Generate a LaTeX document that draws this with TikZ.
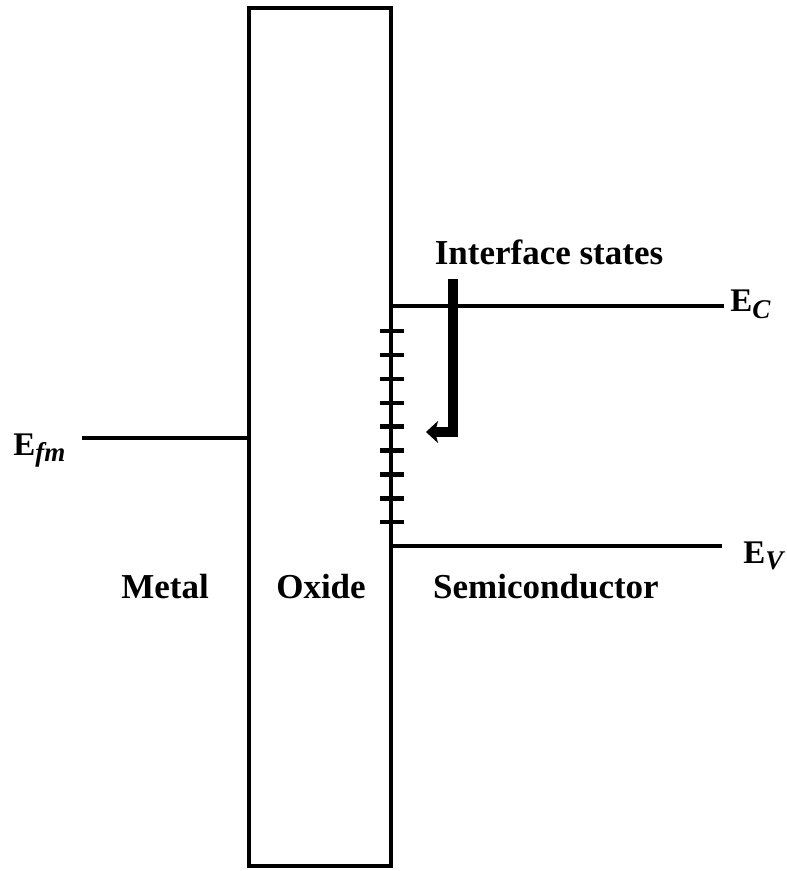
\documentclass[tikz,border=0pt]{standalone}
\usepackage{fontspec}
\setmainfont{Liberation Serif}
\usetikzlibrary{arrows.meta}
\newcommand{\lvlsub}[1]{\raisebox{-3pt}{\fontsize{13.5}{16}\selectfont\textit{#1}}}

\begin{document}
\begin{tikzpicture}[x=0.5pt,y=-0.5pt,
        level/.style={line width=1.9pt},
        region/.style={font=\fontsize{17.5}{21}\selectfont\bfseries, inner sep=0pt},
        energy/.style={font=\fontsize{16.5}{20}\selectfont\bfseries, inner sep=0pt}]
        \useasboundingbox (0,0) rectangle (786,871);
        % ossido
            \draw[level] (249,8) rectangle (391,866);
        % livelli
            \node[energy, anchor=base west] (efm) at (13,455) {E\lvlsub{fm}};
            \node[energy, anchor=base west] (ec) at (730,312) {E\lvlsub{C}};
            \node[energy, anchor=base west] (ev) at (743,563) {E\lvlsub{V}};
            \coordinate (efmL) at (82,438);
            \coordinate (efmR) at (249,438);
            \coordinate (ecL) at (391,306);
            \coordinate (ecR) at (724,306);
            \coordinate (evL) at (391,546);
            \coordinate (evR) at (722,546);
            \draw[level] (efmL) -- (efmR);
            \draw[level] (ecL) -- (ecR);
            \draw[level] (evL) -- (evR);
        % stati di interfaccia
            \foreach \y in {0,...,8}
                \draw[line width=2.2pt] (380,331+23.9*\y) -- (404,331+23.9*\y);
            \node[region, anchor=base] (states) at (549,264) {Interface states};
            \coordinate (top) at (453,279);
            \coordinate (bend) at (453,432);
            \coordinate (tip) at (426,432);
            \draw[line width=5pt, line join=miter, -{Stealth[length=6pt,width=11pt,inset=1.5pt]}] (top) -- (bend) -- (tip);
        % regioni
            \node[region, anchor=base] (metal) at (165,598) {Metal};
            \node[region, anchor=base] (oxide) at (321,598) {Oxide};
            \node[region, anchor=base] (semi) at (546,598) {Semiconductor};
        \end{tikzpicture}
\end{document}
